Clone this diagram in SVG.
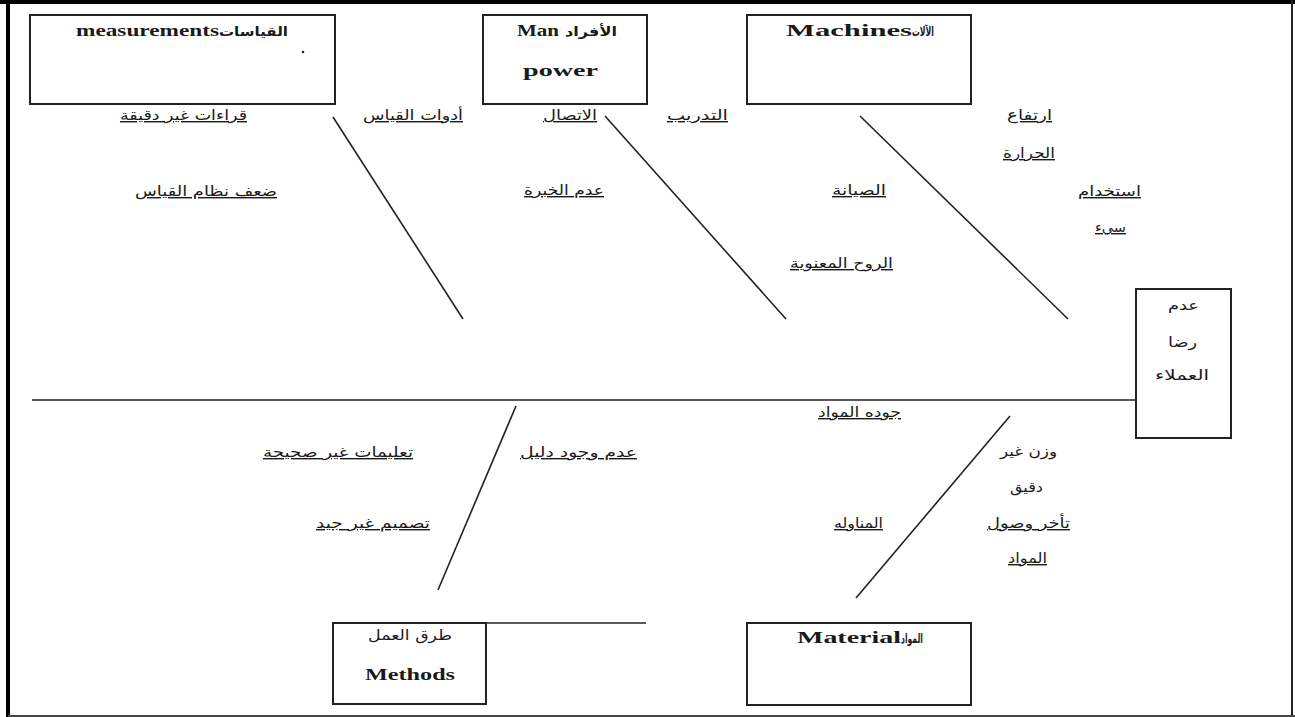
<svg xmlns="http://www.w3.org/2000/svg" width="1295" height="717" viewBox="0 0 1295 717">
<style>
.box{fill:#fff;stroke:#222;stroke-width:2}
.bone{stroke:#222;stroke-width:1.6;fill:none}
.lat{font-family:"Liberation Serif",serif;font-weight:bold;font-size:17px;fill:#1a1a1a}
.ar{font-family:"DejaVu Sans",sans-serif;font-size:14px;fill:#1a1a1a}
.arb{font-family:"DejaVu Sans",sans-serif;font-size:13px;font-weight:bold;fill:#1a1a1a}
.u{text-decoration:underline}
</style>
<rect x="0" y="0" width="1295" height="717" fill="#fff"/>
<g id="frame">
<line x1="0" y1="2" x2="1295" y2="2" stroke="#000" stroke-width="4"/>
<line x1="8" y1="0" x2="8" y2="717" stroke="#000" stroke-width="4"/>
<line x1="1292" y1="0" x2="1292" y2="717" stroke="#222" stroke-width="2"/>
<line x1="8" y1="716" x2="1295" y2="716" stroke="#444" stroke-width="2"/>
</g>
<g id="connectors">
<line class="bone" x1="32" y1="400" x2="1136" y2="400"/>
<line class="bone" x1="333" y1="117" x2="463" y2="319"/>
<line class="bone" x1="605" y1="116" x2="786" y2="319"/>
<line class="bone" x1="860" y1="116" x2="1068" y2="319"/>
<line class="bone" x1="516" y1="406" x2="438" y2="590"/>
<line class="bone" x1="1010" y1="416" x2="856" y2="598"/>
<line class="bone" x1="486" y1="623" x2="646" y2="623"/>
</g>
<g id="effect">
<rect class="box" x="1136" y="289" width="95" height="149"/>
<text class="ar" x="1168" y="310" textLength="31" lengthAdjust="spacingAndGlyphs">عدم</text>
<text class="ar" x="1168" y="347" textLength="29" lengthAdjust="spacingAndGlyphs">رضا</text>
<text class="ar" x="1155" y="380" textLength="54" lengthAdjust="spacingAndGlyphs">العملاء</text>
</g>
<g id="measurements">
<rect class="box" x="30" y="15" width="305" height="89"/>
<text class="lat" x="76" y="36" textLength="143" lengthAdjust="spacingAndGlyphs">measurements</text>
<text class="arb" x="219" y="36" textLength="69" lengthAdjust="spacingAndGlyphs">القياسات</text>
<circle cx="303" cy="52" r="1.3" fill="#222"/>
</g>
<g id="manpower">
<rect class="box" x="483" y="15" width="164" height="89"/>
<text class="lat" x="517" y="36" textLength="42" lengthAdjust="spacingAndGlyphs">Man</text>
<text class="arb" x="565" y="36" textLength="52" lengthAdjust="spacingAndGlyphs">الأفراد</text>
<text class="lat" x="523" y="76" textLength="75" lengthAdjust="spacingAndGlyphs">power</text>
</g>
<g id="machines">
<rect class="box" x="747" y="15" width="224" height="89"/>
<text class="lat" x="786" y="36" textLength="126" lengthAdjust="spacingAndGlyphs">Machines</text>
<text class="arb" x="912" y="36" textLength="22" lengthAdjust="spacingAndGlyphs" font-size="11">الآلات</text>
</g>
<g id="methods">
<rect class="box" x="333" y="623" width="153" height="81"/>
<text class="ar" x="368" y="640" textLength="84" lengthAdjust="spacingAndGlyphs">طرق العمل</text>
<text class="lat" x="365" y="680" textLength="90" lengthAdjust="spacingAndGlyphs">Methods</text>
</g>
<g id="material">
<rect class="box" x="747" y="623" width="224" height="82"/>
<text class="lat" x="797" y="643" textLength="104" lengthAdjust="spacingAndGlyphs">Material</text>
<text class="arb" x="901" y="643" textLength="22" lengthAdjust="spacingAndGlyphs" font-size="11">المواد</text>
</g>
<g id="causes-measurements">
<text class="ar u" x="120" y="120" textLength="127" lengthAdjust="spacingAndGlyphs">قراءات غير دقيقة</text>
<text class="ar u" x="363" y="120" textLength="100" lengthAdjust="spacingAndGlyphs">أدوات القياس</text>
<text class="ar u" x="135" y="196" textLength="142" lengthAdjust="spacingAndGlyphs">ضعف نظام القياس</text>
</g>
<g id="causes-manpower">
<text class="ar u" x="543" y="120" textLength="54" lengthAdjust="spacingAndGlyphs">الاتصال</text>
<text class="ar u" x="667" y="120" textLength="61" lengthAdjust="spacingAndGlyphs">التدريب</text>
<text class="ar u" x="524" y="195" textLength="80" lengthAdjust="spacingAndGlyphs">عدم الخبرة</text>
</g>
<g id="causes-machines">
<text class="ar u" x="832" y="195" textLength="54" lengthAdjust="spacingAndGlyphs">الصيانة</text>
<text class="ar u" x="790" y="268" textLength="103" lengthAdjust="spacingAndGlyphs">الروح المعنوية</text>
<text class="ar u" x="1007" y="120" textLength="45" lengthAdjust="spacingAndGlyphs">ارتفاع</text>
<text class="ar u" x="1003" y="158" textLength="52" lengthAdjust="spacingAndGlyphs">الحرارة</text>
<text class="ar u" x="1078" y="196" textLength="63" lengthAdjust="spacingAndGlyphs">استخدام</text>
<text class="ar u" x="1095" y="232" textLength="31" lengthAdjust="spacingAndGlyphs">سيء</text>
</g>
<g id="causes-methods">
<text class="ar u" x="263" y="457" textLength="150" lengthAdjust="spacingAndGlyphs">تعليمات غير صحيحة</text>
<text class="ar u" x="520" y="457" textLength="117" lengthAdjust="spacingAndGlyphs">عدم وجود دليل</text>
<text class="ar u" x="316" y="528" textLength="114" lengthAdjust="spacingAndGlyphs">تصميم غير جيد</text>
</g>
<g id="causes-material">
<text class="ar u" x="818" y="417" textLength="83" lengthAdjust="spacingAndGlyphs">جوده المواد</text>
<text class="ar" x="1000" y="456" textLength="57" lengthAdjust="spacingAndGlyphs">وزن غير</text>
<text class="ar" x="1010" y="492" textLength="33" lengthAdjust="spacingAndGlyphs">دقيق</text>
<text class="ar u" x="987" y="528" textLength="83" lengthAdjust="spacingAndGlyphs">تأخر وصول</text>
<text class="ar u" x="1008" y="563" textLength="39" lengthAdjust="spacingAndGlyphs">المواد</text>
<text class="ar u" x="834" y="528" textLength="49" lengthAdjust="spacingAndGlyphs">المناوله</text>
</g>
</svg>
